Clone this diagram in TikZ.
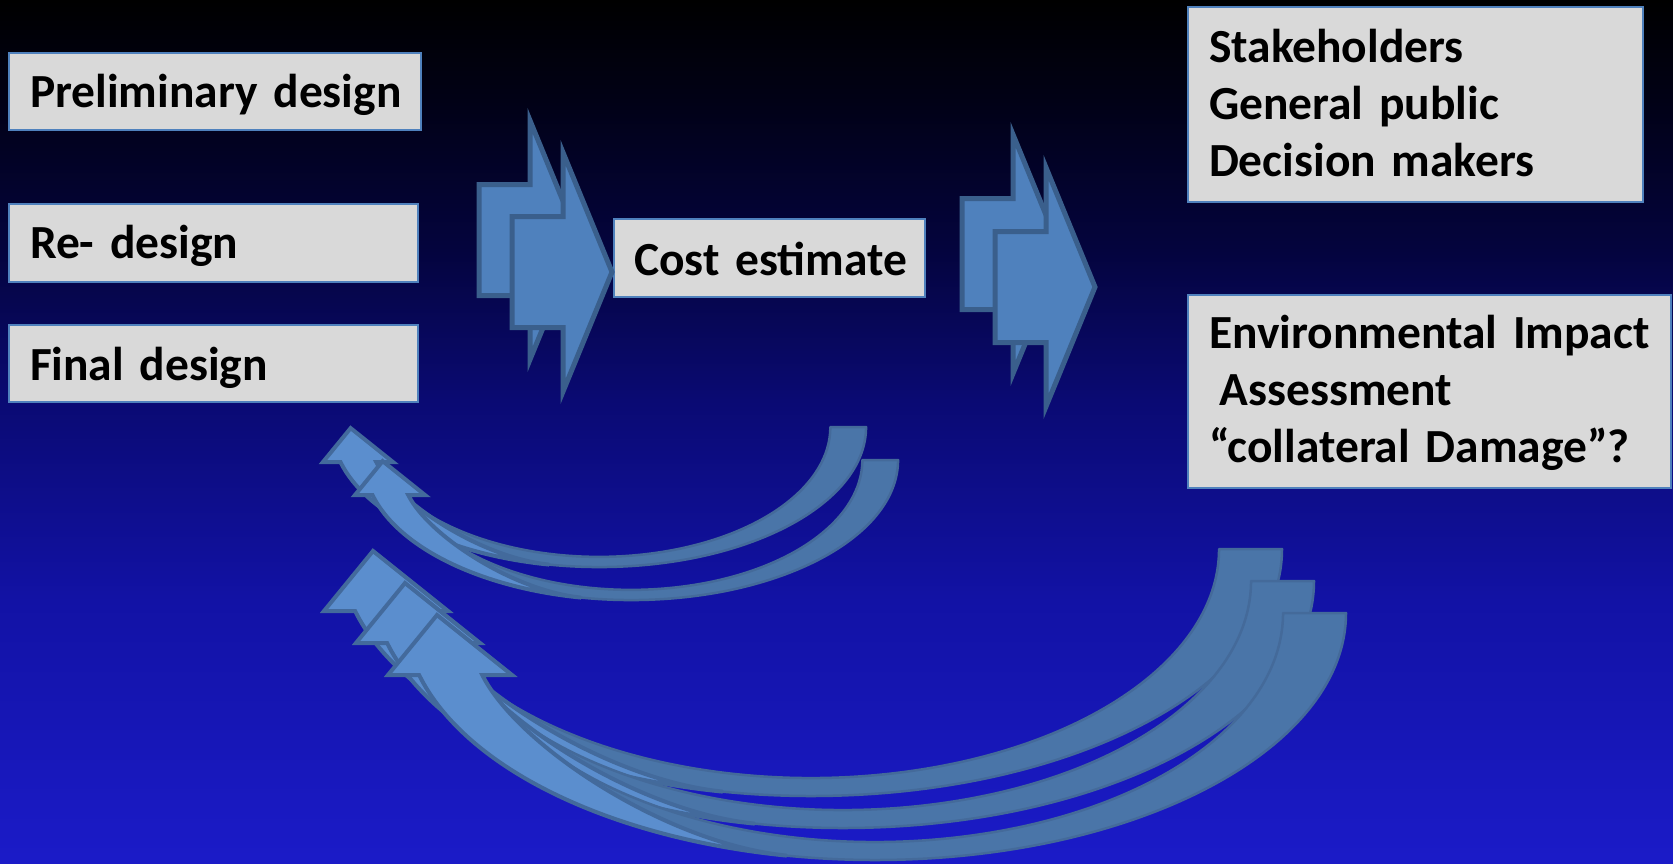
\documentclass[tikz,border=0pt]{standalone}
\usepackage{fontspec}
\setmainfont{Carlito}
\definecolor{boxfill}{RGB}{217,217,217}
\definecolor{boxborder}{RGB}{79,129,189}
\definecolor{barfill}{RGB}{79,129,189}
\definecolor{barborder}{RGB}{58,95,140}
\definecolor{lightfill}{RGB}{91,142,206}
\definecolor{lightborder}{RGB}{67,106,156}
\definecolor{darkfill}{RGB}{74,117,168}
\definecolor{darkborder}{RGB}{68,106,154}
\pgfdeclareverticalshading{bgshade}{100bp}{rgb(0bp)=(0.106,0.106,0.784); rgb(25bp)=(0.106,0.106,0.784); rgb(40.2bp)=(0.071,0.071,0.647); rgb(51.8bp)=(0.039,0.039,0.451); rgb(60.5bp)=(0.016,0.016,0.243); rgb(69.2bp)=(0.004,0.004,0.086); rgb(75bp)=(0,0,0); rgb(100bp)=(0,0,0)}
\newcommand\curvedarrowshape{%
  \draw[darkband] (471,0) arc[start angle=0,end angle=165.46,x radius=471,y radius=247]
    -- (-392.7,62) arc[start angle=164.29,end angle=0,x radius=408,y radius=229] -- cycle;
  \draw[lightband] (-455.9,62) arc[start angle=165.46,end angle=100.8,x radius=471,y radius=247]
    .. controls (-207.7,230.7) and (-356.9,133.5) .. (-392.7,62)
    -- (-363,62) -- (-438,2) -- (-487,62) -- cycle;
}
\newcommand\blockarrowshape{%
  \draw[blockarrow] (0,-55.5) -- (51,-55.5) -- (51,-119.5) -- (100,0) -- (51,119.5) -- (51,55.5) -- (0,55.5) -- cycle;
}
\begin{document}
\begin{tikzpicture}[x=1pt,y=-1pt,
  box/.style={draw=boxborder, line width=1.5pt, fill=boxfill, inner xsep=21pt, inner ysep=0pt,
    outer sep=0pt, align=left, anchor=north west, text=black,
    font=\bfseries\fontsize{47.5}{57}\selectfont},
  blockarrow/.style={fill=barfill, draw=barborder, line width=5pt, line join=miter},
  darkband/.style={fill=darkfill, draw=darkborder, line width=2.5pt, line join=round},
  lightband/.style={fill=lightfill, draw=lightborder, line width=4pt, line join=miter}]
\useasboundingbox (0,0) rectangle (1673,863);
\shade[shading=bgshade] (0,0) rectangle (1673,863);

% left boxes
\node[box, text width=370pt, minimum height=77pt, text height=36pt, text depth=4pt] (prelim) at (9,53) {\mbox{Preliminary design}};
\node[box, text width=367pt, minimum height=78pt, text height=34pt, text depth=4pt] (redesign) at (9,204) {\mbox{Re- design}};
\node[box, text width=367pt, minimum height=77pt, text height=37pt, text depth=4pt] (final) at (9,325) {\mbox{Final design}};

% middle box
\node[box, inner xsep=20pt, text width=271pt, minimum height=78pt, text height=38pt, text depth=4pt] (cost) at (614,219) {\mbox{Cost estimate}};

% right boxes
\node[box, text width=413pt, minimum height=195pt, text height=30pt, text depth=115pt] (stake) at (1188,7)
  {\mbox{Stakeholders}\\\mbox{General public}\\\mbox{Decision makers}};
\node[box, text width=441pt, minimum height=193pt, text height=30pt, text depth=117pt] (eia) at (1188,295)
  {\mbox{Environmental Impact}\\\mbox{\hspace*{0.226em}Assessment}\\\mbox{“collateral Damage”?}};

% block arrows
\begin{scope}[shift={(479,240)}]\blockarrowshape\end{scope}
\begin{scope}[shift={(512,272)}]\blockarrowshape\end{scope}
\begin{scope}[shift={(962,254)}]\blockarrowshape\end{scope}
\begin{scope}[shift={(995,287)}]\blockarrowshape\end{scope}

% small curved arrows
\begin{scope}[shift={(599,427)}, scale=0.567]\curvedarrowshape\end{scope}
\begin{scope}[shift={(631,460)}, scale=0.567]\curvedarrowshape\end{scope}

% large curved arrows
\begin{scope}[shift={(811,549)}]\curvedarrowshape\end{scope}
\begin{scope}[shift={(843,581)}]\curvedarrowshape\end{scope}
\begin{scope}[shift={(875,613)}]\curvedarrowshape\end{scope}
\end{tikzpicture}
\end{document}
